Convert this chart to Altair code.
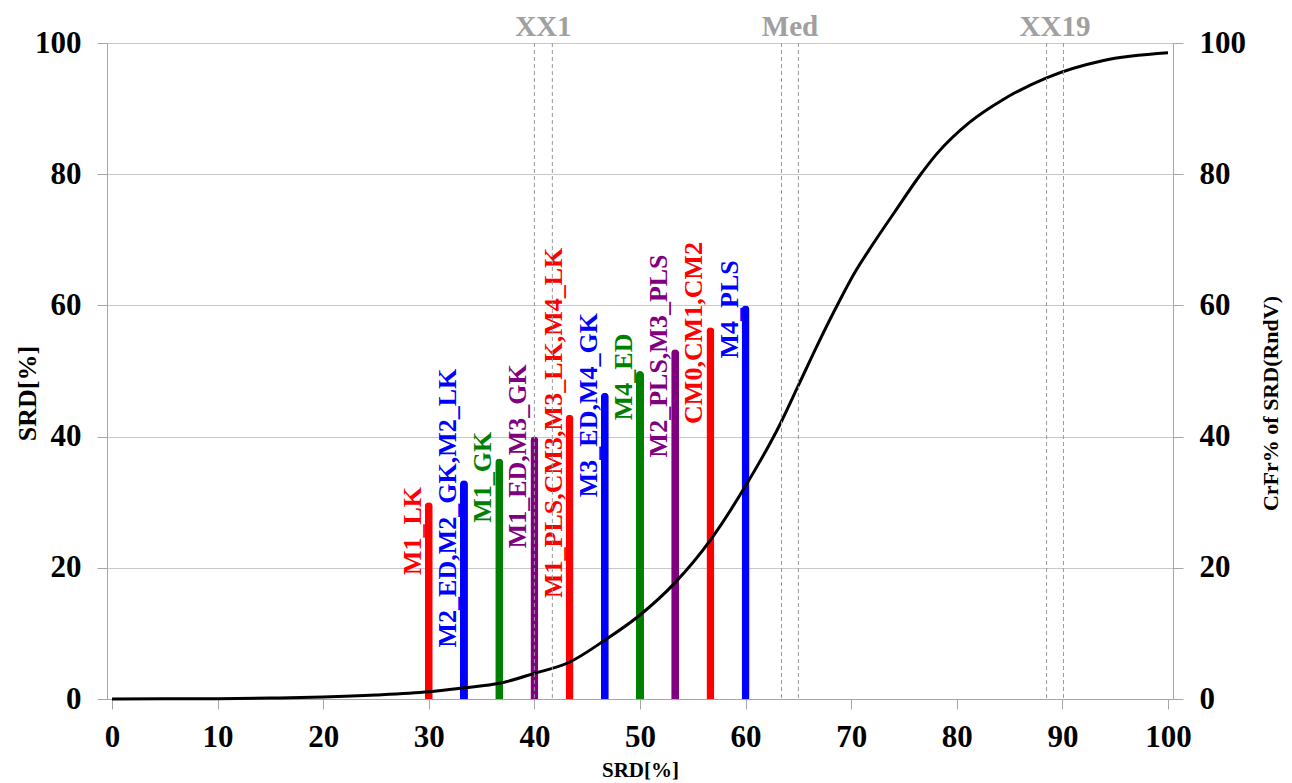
import altair as alt
import pandas as pd

# ---- data ----
bar_x = [30.0, 33.33, 36.67, 40.0, 43.33, 46.67, 50.0, 53.33, 56.67, 60.0]
bar_val = [30.0, 33.33, 36.67, 40.0, 43.33, 46.67, 50.0, 53.33, 56.67, 60.0]
bar_labels = ["M1_LK", "M2_ED,M2_GK,M2_LK", "M1_GK", "M1_ED,M3_GK",
              "M1_PLS,CM3,M3_LK,M4_LK", "M3_ED,M4_GK", "M4_ED",
              "M2_PLS,M3_PLS", "CM0,CM1,CM2", "M4_PLS"]
label_center = [25.6, 29.1, 33.8, 37.0, 42.1, 44.8, 49.1, 52.3, 55.8, 59.4]

curve_x = [0, 5, 10, 15, 20, 25, 30, 33.3, 36.7, 40, 43.3, 46.7, 50, 53.3, 56.7,
           60, 63.3, 65, 66.9, 68.8, 70.3, 72, 74.1, 76.5, 78.1, 81.2, 84.4, 88.5, 93.8, 100]
curve_y = [0.0, 0.02, 0.05, 0.15, 0.3, 0.6, 1.1, 1.7, 2.4, 3.9, 5.6, 9.0, 12.8, 17.7, 24.3,
           32.5, 42.0, 47.8, 54.3, 60.4, 64.9, 69.2, 74.2, 79.8, 83.1, 87.9, 91.4, 94.7, 97.3, 98.5]

ref_x = [40.0, 41.7, 63.4, 65.0, 88.5, 90.1]
ref_names = ["XX1", "Med", "XX19"]
ref_name_x = [40.85, 64.2, 89.3]

# ---- styles ----
bar_colors = ["#ff0000", "#0000ff", "#008000", "#800080", "#ff0000",
              "#0000ff", "#008000", "#800080", "#ff0000", "#0000ff"]
FONT = "Liberation Serif"
GRID = "#c8c8c8"
DOM = "#a6a6a6"

bars_df = pd.DataFrame({"x": bar_x, "v": bar_val, "label": bar_labels, "lc": label_center})
curve_df = pd.DataFrame({"x": curve_x, "y": curve_y})
ref_df = pd.DataFrame({"x": ref_x})
refname_df = pd.DataFrame({"x": ref_name_x, "name": ref_names})

xscale = alt.Scale(domain=[0, 100], nice=False, zero=False)
yscale = alt.Scale(domain=[0, 100], nice=False)
color = alt.Color("label:N", scale=alt.Scale(domain=bar_labels, range=bar_colors), legend=None)

x_axis = alt.Axis(title="SRD[%]", values=list(range(0, 101, 10)), grid=False,
                  labelFont=FONT, labelFontWeight="bold", labelFontSize=31, labelColor="black",
                  tickSize=10, tickColor=DOM, domainColor=DOM, labelPadding=13,
                  titleFont=FONT, titleFontWeight="bold", titleFontSize=21, titleColor="black",
                  titleY=71, titleBaseline="middle")

left_axis = alt.Axis(title="SRD[%]", orient="left", values=list(range(0, 101, 20)),
                     grid=True, gridColor=GRID, labelFont=FONT, labelFontWeight="bold",
                     labelFontSize=31, labelColor="black", tickSize=10, tickColor=DOM,
                     domainColor=DOM, labelPadding=16,
                     titleFont=FONT, titleFontWeight="bold", titleFontSize=26, titleColor="black",
                     titleX=-80, titleY=350, titleAngle=270, titleAlign="center",
                     titleBaseline="middle")

right_axis = alt.Axis(title="CrFr% of SRD(RndV)", orient="right", values=list(range(0, 101, 20)),
                      grid=False, labelFont=FONT, labelFontWeight="bold",
                      labelFontSize=31, labelColor="black", tickSize=10, tickColor=DOM,
                      domainColor=DOM, labelPadding=16,
                      titleFont=FONT, titleFontWeight="bold", titleFontSize=22, titleColor="black",
                      titleX=97, titleY=360, titleAngle=270, titleAlign="center",
                      titleBaseline="middle")

X = alt.X("x:Q", scale=xscale, axis=x_axis)

bars = alt.Chart(bars_df).mark_bar(size=8, cornerRadiusTopLeft=4, cornerRadiusTopRight=4).encode(
    x=X,
    y=alt.Y("v:Q", scale=yscale, axis=left_axis),
    color=color,
)

labels = alt.Chart(bars_df).mark_text(angle=270, align="center", baseline="middle", dy=-16,
                                      font=FONT, fontWeight="bold", fontSize=26).encode(
    x=X,
    y=alt.Y("lc:Q", scale=yscale, axis=None),
    text="label:N",
    color=color,
)

refs = alt.Chart(ref_df).mark_rule(color="#999999", strokeWidth=1, strokeDash=[4, 3]).encode(
    x=X,
    y=alt.value(0),
    y2=alt.value(656),
)

refnames = alt.Chart(refname_df).mark_text(font=FONT, fontWeight="bold", fontSize=29,
                                           color="#a0a0a0", baseline="middle").encode(
    x=X,
    y=alt.value(-16),
    text="name:N",
)

curve = alt.Chart(curve_df).mark_line(color="black", strokeWidth=3, interpolate="monotone").encode(
    x=X,
    y=alt.Y("y:Q", scale=yscale, axis=right_axis),
)

chart = alt.layer(bars, labels, curve, refs, refnames).resolve_scale(y="independent").properties(
    width=1066, height=656,
    autosize=alt.AutoSizeParams(type="none"),
    padding={"left": 99, "top": 35, "right": 111, "bottom": 84},
).configure_view(stroke=DOM, strokeWidth=1)

chart.save("out.html", embed_options={"renderer": "svg", "actions": False})
